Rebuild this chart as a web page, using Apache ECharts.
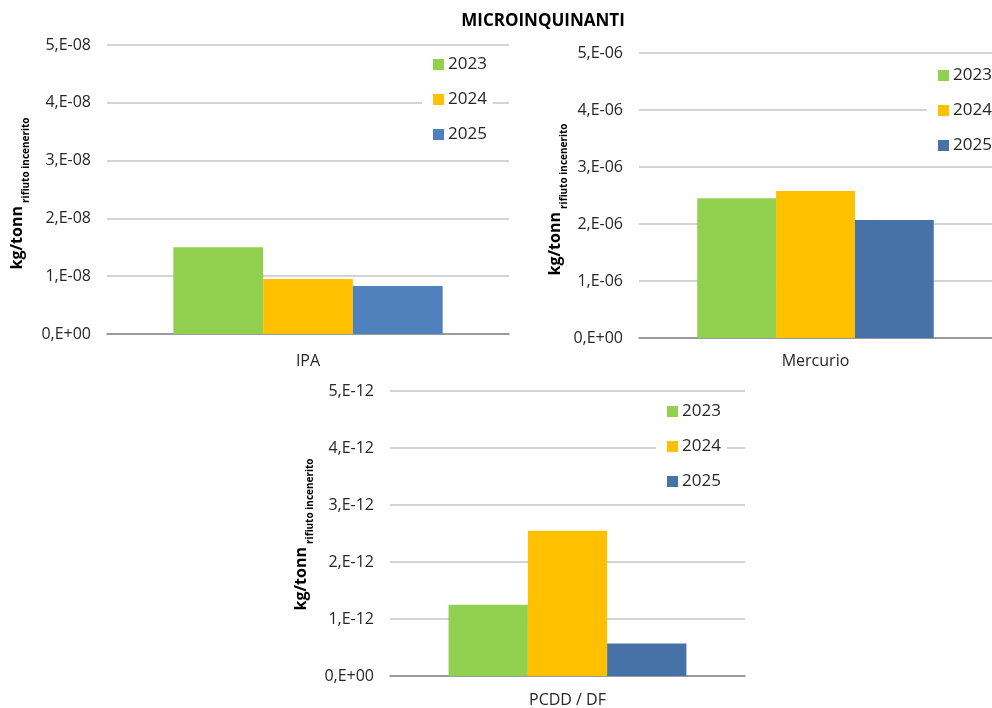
<!DOCTYPE html>
<html>
<head>
<meta charset="utf-8">
<script src="https://cdn.jsdelivr.net/npm/echarts@6/dist/echarts.min.js"></script>
<style>
  html, body { margin: 0; padding: 0; background: #fff; }
  #main { width: 992px; height: 708px; }
</style>
</head>
<body>
<div id="main"></div>
<script>
// dati
const years = ['2023', '2024', '2025'];
const yearColors = ['#92d050', '#ffc000', '#4f81bd'];
const yearColors2 = ['#92d050', '#ffc000', '#4672a8'];

const ipaCat = ['IPA'];
const ipaValues = [1.5e-8, 0.95e-8, 0.83e-8];
const ipaTicks = ['0,E+00', '1,E-08', '2,E-08', '3,E-08', '4,E-08', '5,E-08'];

const hgCat = ['Mercurio'];
const hgValues = [2.45e-6, 2.58e-6, 2.07e-6];
const hgTicks = ['0,E+00', '1,E-06', '2,E-06', '3,E-06', '4,E-06', '5,E-06'];

const pcddCat = ['PCDD / DF'];
const pcddValues = [1.25e-12, 2.55e-12, 0.57e-12];
const pcddTicks = ['0,E+00', '1,E-12', '2,E-12', '3,E-12', '4,E-12', '5,E-12'];

const FONT = 'Open Sans';
const TXT = '#262626';

const chart = echarts.init(document.getElementById('main'), null, { renderer: 'canvas' });

// posizione dei tre pannelli
const panels = [
  { cat: ipaCat, values: ipaValues, ticks: ipaTicks, max: 5e-8, colors: yearColors,
    grid: { left: 107, top: 45, width: 402, height: 289 }, nameGap: 76, namePad: 8, labelMargin: 19,
    legend: { left: 422, top: 51 } },
  { cat: hgCat, values: hgValues, ticks: hgTicks, max: 5e-6, colors: yearColors2,
    grid: { left: 639, top: 53, width: 356, height: 285 }, nameGap: 67, namePad: 8, labelMargin: 15,
    legend: { left: 927, top: 62 } },
  { cat: pcddCat, values: pcddValues, ticks: pcddTicks, max: 5e-12, colors: yearColors2,
    grid: { left: 390, top: 391, width: 355, height: 286 }, nameGap: 75, namePad: 2, labelMargin: 16,
    legend: { left: 656, top: 398 } }
];

const option = {
  animation: false,
  backgroundColor: '#fff',
  textStyle: { fontFamily: FONT },
  title: {
    text: 'MICROINQUINANTI',
    left: 538, top: 8, textAlign: 'center',
    textStyle: { fontFamily: FONT, fontSize: 17, fontWeight: 'bold', color: '#000' }
  },
  grid: [], xAxis: [], yAxis: [], legend: [], series: []
};

panels.forEach((p, i) => {
  option.grid.push(Object.assign({ containLabel: false }, p.grid));
  option.xAxis.push({
    type: 'category', gridIndex: i, data: p.cat,
    axisTick: { show: false },
    axisLine: { show: true, lineStyle: { color: '#868686', width: 1.5 } },
    axisLabel: { color: TXT, fontSize: 16, fontFamily: FONT, margin: p.labelMargin }
  });
  option.yAxis.push({
    type: 'value', gridIndex: i, min: 0, max: p.max, interval: p.max / 5,
    axisLine: { show: false }, axisTick: { show: false },
    splitLine: { lineStyle: { color: '#c6c6c6', width: 1.5 } },
    axisLabel: {
      color: TXT, fontSize: 16, fontFamily: FONT, margin: 16,
      formatter: (v, idx) => p.ticks[idx]
    },
    name: '{a|kg/tonn} {b|rifiuto incenerito}',
    nameLocation: 'middle', nameRotate: 90, nameGap: p.nameGap,
    nameTextStyle: {
      padding: [0, p.namePad, 0, 0],
      rich: {
        a: { fontFamily: FONT, fontSize: 16, fontWeight: 'bold', color: '#000', lineHeight: 20, verticalAlign: 'top' },
        b: { fontFamily: FONT, fontSize: 10, fontWeight: 'bold', color: '#000', lineHeight: 12, verticalAlign: 'bottom' }
      },
      lineHeight: 22
    }
  });
  option.legend.push({
    orient: 'vertical', left: p.legend.left, top: p.legend.top,
    icon: 'rect', itemWidth: 11, itemHeight: 11, itemGap: 18,
    padding: [5, 6, 5, 11], backgroundColor: '#fff',
    textStyle: { fontFamily: FONT, fontSize: 17, color: TXT, lineHeight: 17, padding: [0, 0, 0, -1] },
    selectedMode: false,
    // la legenda di ogni pannello usa i suoi colori
    data: years.map((y, k) => ({ name: y, itemStyle: { color: p.colors[k] } }))
  });
  years.forEach((y, k) => {
    option.series.push({
      name: y, type: 'bar', xAxisIndex: i, yAxisIndex: i,
      data: [p.values[k]],
      barGap: 0, barCategoryGap: '33%',
      itemStyle: { color: p.colors[k] }
    });
  });
});

chart.setOption(option);
</script>
</body>
</html>
